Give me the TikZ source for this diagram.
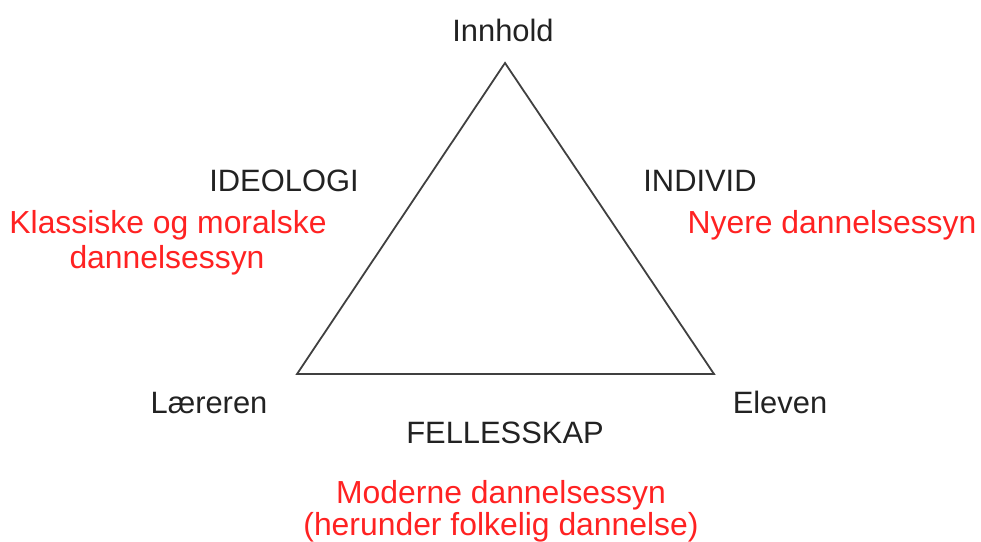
\documentclass[tikz,border=0pt]{standalone}
\usepackage{fontspec}
\setmainfont{Liberation Sans}
\definecolor{txtgray}{HTML}{222222}
\definecolor{linegray}{HTML}{404040}
\definecolor{redtxt}{HTML}{FF2222}
\begin{document}
\begin{tikzpicture}[x=1bp,y=-1bp,
  lbl/.style={anchor=base,inner sep=0pt,text=txtgray,font=\fontsize{31}{36}\selectfont},
  rlbl/.style={anchor=base,inner sep=0pt,text=redtxt,font=\fontsize{32}{37}\selectfont},
  tri/.style={draw=linegray,line width=1.8bp,line join=miter}]
\useasboundingbox (0,0) rectangle (981,542);
\coordinate (top) at (505,63);
\coordinate (left) at (297,374);
\coordinate (right) at (714,374);
\draw[tri] (top) -- (left) -- (right) -- cycle;
\node[lbl] (innhold) at (503,42) {Innhold};
\node[lbl] (ideologi) at (284,192) {IDEOLOGI};
\node[lbl] (individ) at (700,192) {INDIVID};
\node[rlbl] (klass1) at (168,234) {Klassiske og moralske};
\node[rlbl] (klass2) at (167,269) {dannelsessyn};
\node[rlbl] (nyere) at (832,234) {Nyere dannelsessyn};
\node[lbl] (laereren) at (209,413) {Læreren};
\node[lbl] (eleven) at (780,413) {Eleven};
\node[lbl] (felles) at (505,443) {FELLESSKAP};
\node[rlbl] (moderne1) at (501,503) {Moderne dannelsessyn};
\node[rlbl] (moderne2) at (501,535) {(herunder folkelig dannelse)};
\end{tikzpicture}
\end{document}
